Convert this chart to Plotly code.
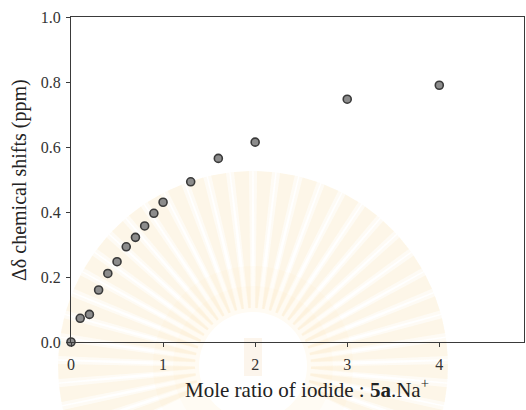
import math
import plotly.graph_objects as go

# Titration data: mole ratio of iodide added vs. change in chemical shift
mole_ratio = [0.0, 0.1, 0.2, 0.3, 0.4, 0.5, 0.6, 0.7, 0.8, 0.9, 1.0, 1.3, 1.6, 2.0, 3.0, 4.0]
delta_shift = [0.0, 0.073, 0.085, 0.160, 0.211, 0.247, 0.293, 0.322, 0.357, 0.396, 0.430,
               0.493, 0.565, 0.615, 0.747, 0.790]
x_ticks = [0, 1, 2, 3, 4]
y_ticks = [0.0, 0.2, 0.4, 0.6, 0.8, 1.0]

W, H = 526, 410
ML, MR, MT, MB = 71, 2, 17, 68
PW, PH = W - ML - MR, H - MT - MB
FONT = "Liberation Serif"


def to_paper(px, py):
    return (px - ML) / PW, (H - MB - py) / PH


# Faint sunburst emblem in the background
shapes = []
cx, cy = 253, 366
r_in, r_out = 58, 195
n_rays = 34
a0, a1 = -22, 202
for layer_w, alpha in [(3.2, 0.07), (2.2, 0.10)]:
    for i in range(n_rays):
        a = math.radians(a0 + (a1 - a0) * i / (n_rays - 1))
        half_out = math.radians(layer_w)
        half_in = math.radians(layer_w * 0.45)
        pts = [
            (cx + r_in * math.cos(a - half_in), cy - r_in * math.sin(a - half_in)),
            (cx + r_out * math.cos(a - half_out), cy - r_out * math.sin(a - half_out)),
            (cx + r_out * math.cos(a + half_out), cy - r_out * math.sin(a + half_out)),
            (cx + r_in * math.cos(a + half_in), cy - r_in * math.sin(a + half_in)),
        ]
        pp = [to_paper(*p) for p in pts]
        path = "M " + " L ".join(f"{x:.4f},{y:.4f}" for x, y in pp) + " Z"
        shapes.append(dict(type="path", xref="paper", yref="paper", path=path,
                           fillcolor=f"rgba(245,205,120,{alpha})", line=dict(width=0),
                           layer="below"))
# soft glow around the centre
for r, op in [(100, 0.06), (80, 0.06)]:
    x0, y0 = to_paper(cx - r, cy + r)
    x1, y1 = to_paper(cx + r, cy - r)
    shapes.append(dict(type="circle", xref="paper", yref="paper", x0=x0, y0=y0, x1=x1, y1=y1,
                       fillcolor=f"rgba(248,215,150,{op})", line=dict(width=0), layer="below"))
x0, y0 = to_paper(cx - 54, cy + 54)
x1, y1 = to_paper(cx + 54, cy - 54)
shapes.append(dict(type="circle", xref="paper", yref="paper", x0=x0, y0=y0, x1=x1, y1=y1,
                   fillcolor="white", line=dict(width=0), layer="below"))
# small emblem in the middle
x0, y0 = to_paper(cx - 9, cy + 10)
x1, y1 = to_paper(cx + 9, cy - 28)
shapes.append(dict(type="rect", xref="paper", yref="paper", x0=x0, y0=y0, x1=x1, y1=y1,
                   fillcolor="rgba(240,210,170,0.22)", line=dict(width=0), layer="below"))

fig = go.Figure(
    go.Scatter(
        x=mole_ratio, y=delta_shift, mode="markers",
        marker=dict(size=8, color="#8c8c8c", line=dict(color="#3a3a3a", width=1.6)),
        cliponaxis=False, showlegend=False,
    )
)

axis_common = dict(
    showgrid=False, zeroline=False, showline=True, linecolor="#3a3a3a", linewidth=1.2,
    mirror=True, ticks="outside", ticklen=4, tickwidth=1, tickcolor="#3a3a3a",
    tickfont=dict(family=FONT, size=16, color="#333333"),
)

fig.update_layout(
    width=W, height=H,
    margin=dict(l=ML, r=MR, t=MT, b=MB),
    font=dict(family=FONT, size=16, color="#333333"),
    paper_bgcolor="white", plot_bgcolor="rgba(0,0,0,0)",
    shapes=shapes,
    xaxis=dict(range=[0, 4.92], tickvals=x_ticks, ticktext=[str(v) for v in x_ticks],
               ticklabelstandoff=4, **axis_common),
    yaxis=dict(range=[0, 1.0], tickvals=y_ticks, tickformat=".1f",
               ticklabelstandoff=2, **axis_common),
    annotations=[
        dict(text="Mole ratio of iodide : <b>5a</b>.Na<sup>+</sup>", xref="paper", yref="paper",
             x=(307 - ML) / PW, y=(H - MB - 388) / PH, xanchor="center", yanchor="middle",
             showarrow=False, font=dict(family=FONT, size=21, color="#222222")),
        dict(text="Δδ chemical shifts (ppm)", xref="paper", yref="paper",
             x=(20 - ML) / PW, y=(H - MB - 180) / PH, xanchor="center", yanchor="middle",
             textangle=-90, showarrow=False, font=dict(family=FONT, size=20, color="#222222")),
    ],
)

fig.write_html("out.html")
